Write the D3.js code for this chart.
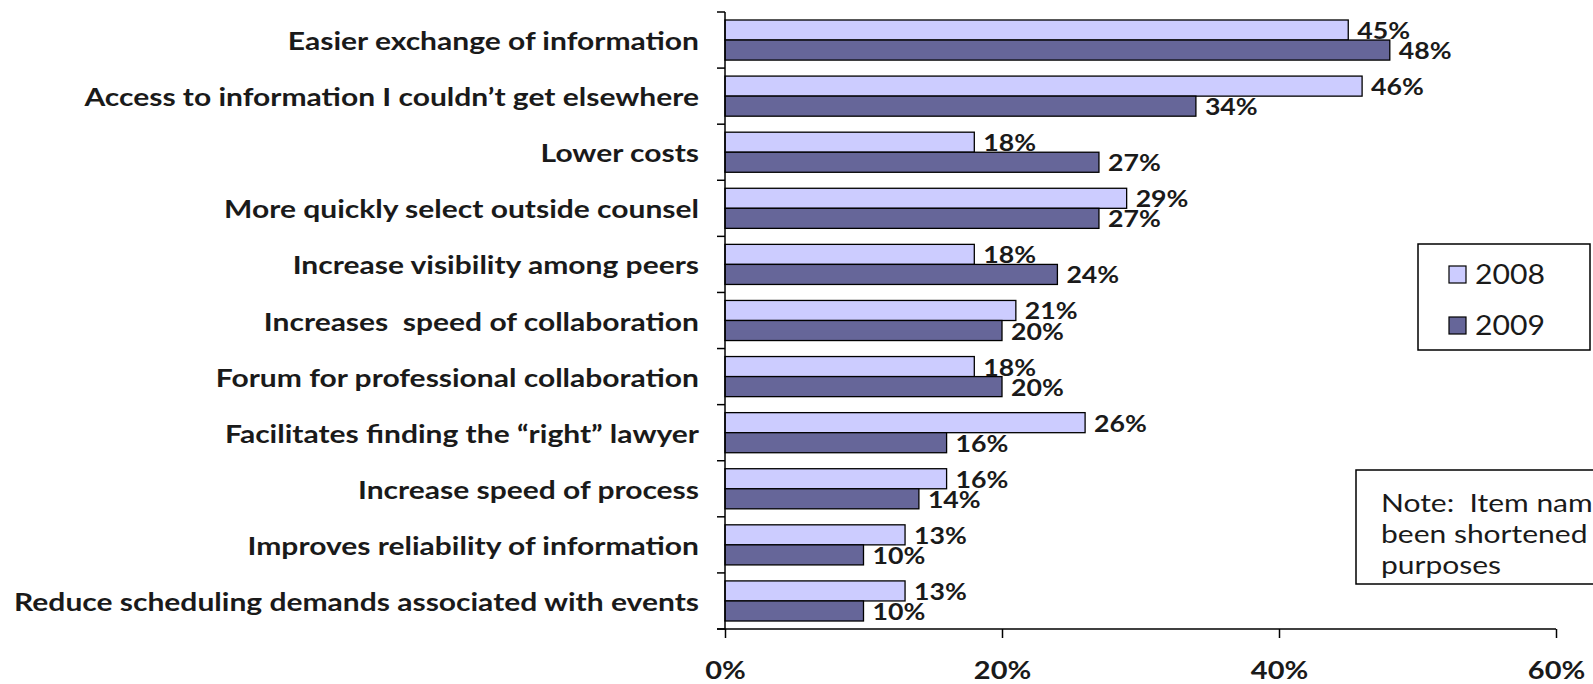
<!DOCTYPE html>
<head>
    <script src="https://d3js.org/d3.v7.min.js"></script>
</head>
<style>
body {
    margin: 0;
    background: #fff;
    font-family: "Lato", "Open Sans", sans-serif;
}
svg { display: block; }
text { white-space: pre; }
</style>
<body>
<svg></svg>
<script>

    // Data
    var categories = [
        "Easier exchange of information",
        "Access to information I couldn\u2019t get elsewhere",
        "Lower costs",
        "More quickly select outside counsel",
        "Increase visibility among peers",
        "Increases  speed of collaboration",
        "Forum for professional collaboration",
        "Facilitates finding the \u201cright\u201d lawyer",
        "Increase speed of process",
        "Improves reliability of information",
        "Reduce scheduling demands associated with events"
    ];
    var years = ["2008", "2009"];
    var values2008 = [45, 46, 18, 29, 18, 21, 18, 26, 16, 13, 13];
    var values2009 = [48, 34, 27, 27, 24, 20, 20, 16, 14, 10, 10];
    var xTicks = [0, 20, 40, 60];
    var noteLines = ["Note:  Item names have", "been shortened for display", "purposes"];

    var width = 1593, height = 684;
    var colors = { "2008": "#ccccff", "2009": "#666699" };
    var SX = 1.16; // the original text is a bit wider than Lato

    var svg = d3.select('svg')
        .attr('width', width)
        .attr('height', height);

    var x = d3.scaleLinear().domain([0, 60]).range([725, 1556]);
    var y = d3.scaleBand().domain(categories).range([12, 629]);
    var ySub = d3.scaleBand().domain(years).range([8, y.bandwidth() - 8]);

    function stretched(px, py, sx) {
        return 'translate(' + px + ',' + py + ') scale(' + (sx || SX) + ',1)';
    }

    var rows = categories.map(function (c, i) {
        return { name: c, vals: [{ year: "2008", v: values2008[i] }, { year: "2009", v: values2009[i] }] };
    });

    var row = svg.selectAll('g.row').data(rows).enter().append('g')
        .attr('class', 'row')
        .attr('transform', function (d) { return 'translate(0,' + y(d.name) + ')'; });

    row.selectAll('rect').data(function (d) { return d.vals; }).enter().append('rect')
        .attr('x', x(0))
        .attr('y', function (d) { return ySub(d.year); })
        .attr('width', function (d) { return x(d.v) - x(0); })
        .attr('height', ySub.bandwidth())
        .style('fill', function (d) { return colors[d.year]; })
        .style('stroke', '#000')
        .style('stroke-width', 1.3);

    // value labels
    row.selectAll('text.val').data(function (d) { return d.vals; }).enter().append('text')
        .attr('class', 'val')
        .attr('transform', function (d) {
            return stretched(x(d.v) + 9, ySub(d.year) + ySub.bandwidth() / 2 + 9);
        })
        .style('font-weight', 'bold')
        .style('font-size', '23px')
        .style('fill', '#1a1a1a')
        .text(function (d) { return d.v + '%'; });

    // category labels
    row.append('text')
        .attr('transform', stretched(699, y.bandwidth() / 2 + 10, 1.2))
        .attr('text-anchor', 'end')
        .style('font-weight', 'bold')
        .style('font-size', '25px')
        .style('fill', '#1a1a1a')
        .text(function (d) { return d.name; });

    // left axis with ticks at the band edges
    var yEdges = categories.map(function (c) { return y(c); }).concat([y.range()[1]]);
    svg.append('line')
        .attr('x1', x(0)).attr('x2', x(0))
        .attr('y1', y.range()[0]).attr('y2', y.range()[1])
        .style('stroke', '#000').style('stroke-width', 1.5);
    svg.selectAll('line.ytick').data(yEdges).enter().append('line')
        .attr('class', 'ytick')
        .attr('x1', x(0) - 8).attr('x2', x(0))
        .attr('y1', function (d) { return d; }).attr('y2', function (d) { return d; })
        .style('stroke', '#000').style('stroke-width', 1.5);

    // bottom axis
    var xAxis = svg.append('g')
        .attr('transform', 'translate(0,' + y.range()[1] + ')')
        .call(d3.axisBottom(x).tickValues(xTicks).tickSize(9).tickSizeOuter(0)
            .tickFormat(function (d) { return d + '%'; }));
    xAxis.select('.domain').attr('d', 'M' + (x(0) - 8) + ',0H' + x(60)).style('stroke-width', 1.5);
    xAxis.selectAll('.tick line').style('stroke-width', 1.5);
    xAxis.selectAll('.tick text')
        .attr('y', null).attr('dy', null)
        .attr('transform', stretched(0, 50))
        .style('font-family', '"Lato", sans-serif')
        .style('font-weight', 'bold')
        .style('font-size', '25px')
        .style('fill', '#1a1a1a');

    // legend
    var legend = svg.append('g').attr('transform', 'translate(1418,244)');
    legend.append('rect')
        .attr('width', 172).attr('height', 106)
        .style('fill', '#fff').style('stroke', '#000').style('stroke-width', 1.5);
    var li = legend.selectAll('g.item').data(years).enter().append('g')
        .attr('class', 'item')
        .attr('transform', function (d, i) { return 'translate(31,' + (22 + i * 51) + ')'; });
    li.append('rect')
        .attr('width', 17).attr('height', 17)
        .style('fill', function (d) { return colors[d]; })
        .style('stroke', '#000').style('stroke-width', 1.2);
    li.append('text')
        .attr('transform', stretched(26, 18))
        .style('font-size', '26px')
        .style('fill', '#1a1a1a')
        .text(function (d) { return d; });

    // note box (runs off the right edge)
    var note = svg.append('g').attr('transform', 'translate(1356,470)');
    note.append('rect')
        .attr('width', 320).attr('height', 114)
        .style('fill', '#fff').style('stroke', '#000').style('stroke-width', 1.5);
    note.selectAll('text').data(noteLines).enter().append('text')
        .attr('transform', function (d, i) { return stretched(25, 42 + i * 31, 1.2); })
        .style('font-size', '25px')
        .style('fill', '#1a1a1a')
        .text(function (d) { return d; });

</script>
</body>
